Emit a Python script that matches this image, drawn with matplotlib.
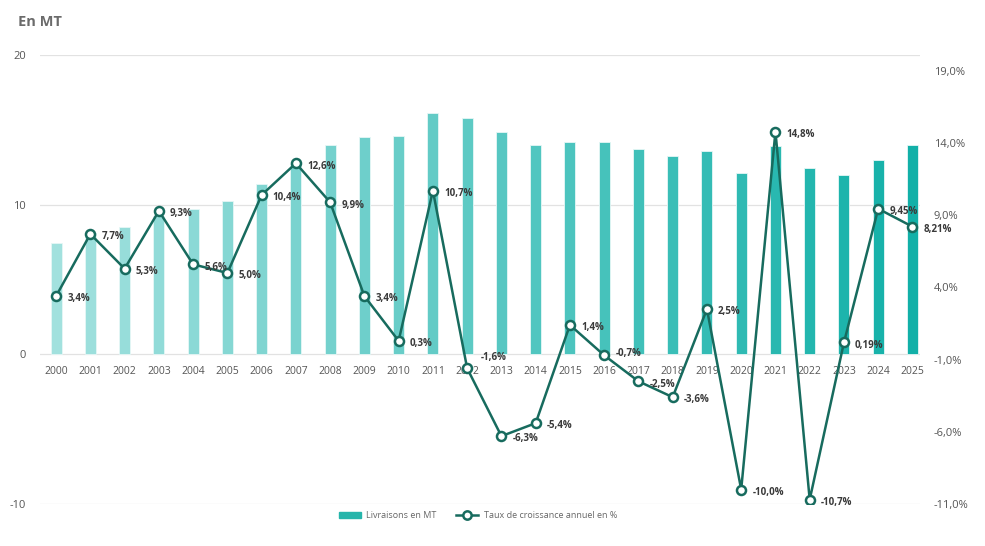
import numpy as np
import matplotlib.pyplot as plt
from matplotlib.colors import LinearSegmentedColormap

plt.rcParams['font.family'] = ['Open Sans', 'DejaVu Sans']
plt.rcParams['axes.unicode_minus'] = False

years = [str(y) for y in range(2000, 2026)]
livraisons = [7.45, 8.1, 8.5, 9.27, 9.73, 10.27, 11.38, 12.7, 14.0, 14.49,
              14.58, 16.11, 15.82, 14.84, 14.0, 14.22, 14.16, 13.73, 13.22, 13.58,
              12.11, 13.93, 12.47, 11.98, 12.96, 13.96]
croissance = [3.4, 7.7, 5.3, 9.3, 5.6, 5.0, 10.4, 12.6, 9.9, 3.4,
              0.3, 10.7, -1.6, -6.3, -5.4, 1.4, -0.7, -2.5, -3.6, 2.5,
              -10.0, 14.8, -10.7, 0.19, 9.45, 8.21]
labels = ["3,4%", "7,7%", "5,3%", "9,3%", "5,6%", "5,0%", "10,4%", "12,6%", "9,9%", "3,4%",
          "0,3%", "10,7%", "-1,6%", "-6,3%", "-5,4%", "1,4%", "-0,7%", "-2,5%", "-3,6%", "2,5%",
          "-10,0%", "14,8%", "-10,7%", "0,19%", "9,45%", "8,21%"]
left_ticks = [-10, 0, 10, 20]
right_ticks = [-11, -6, -1, 4, 9, 14, 19]

line_col = "#176b5e"
cmap = LinearSegmentedColormap.from_list("teal", ["#a2e1de", "#12b0a8"])

fig = plt.figure(figsize=(9.85, 5.46), dpi=100)
ax = fig.add_axes([40 / 985, 1 - 504 / 546, 880 / 985, 449 / 546])
x = np.arange(len(years))
colors = [cmap(i / (len(years) - 1)) for i in range(len(years))]
ax.bar(x, livraisons, width=0.32, color=colors, edgecolor="#e6f7f6", linewidth=0.6, zorder=2)
ax.set_ylim(-10, 20)
ax.set_xlim(-0.47, 25.22)
ax.set_yticks(left_ticks)
ax.set_yticklabels([str(t) for t in left_ticks])
ax.grid(axis="y", color="#e2e2e2", linewidth=0.9, zorder=0)
ax.set_axisbelow(True)
for s in ax.spines.values():
    s.set_visible(False)
ax.tick_params(axis="y", length=0, pad=10, labelsize=8, labelcolor="#555555")
ax.set_xticks([])
# year labels sit just under the zero line
for xi, yr in zip(x, years):
    ax.text(xi, -0.75, yr, ha="center", va="top", fontsize=7.5, color="#555555")

ax2 = ax.twinx()
ax2.set_ylim(-11, 20.1)
ax2.set_yticks(right_ticks)
ax2.set_yticklabels([f"{t},0%" for t in right_ticks])
ax2.tick_params(axis="y", length=0, pad=10, labelsize=8, labelcolor="#555555")
for s in ax2.spines.values():
    s.set_visible(False)
ax2.plot(x, croissance, color=line_col, linewidth=1.8, marker="o", markersize=6.5,
         markerfacecolor="white", markeredgecolor=line_col, markeredgewidth=1.8, zorder=5)

# a few labels are nudged so they don't sit on the year labels
nudge = {"2012": (10, 8), "2016": (8, 1)}
for xi, yr, v, t in zip(x, years, croissance, labels):
    off = nudge.get(yr, (8, -2))
    ax2.annotate(t, (xi, v), xytext=off, textcoords="offset points",
                 ha="left", va="center", fontsize=7, fontweight="bold", color="#3a3a3a", zorder=6)

fig.text(18 / 985, 1 - 22 / 546, "En MT", fontsize=10.5, fontweight="bold", color="#6b6b6b",
         ha="left", va="center")

# legend
bar_h = plt.Rectangle((0, 0), 1, 1, color="#26b5ab")
line_h, = ax2.plot([], [], color=line_col, linewidth=1.8, marker="o", markersize=6,
                   markerfacecolor="white", markeredgecolor=line_col, markeredgewidth=1.8)
fig.legend([bar_h, line_h], ["Livraisons en MT", "Taux de croissance annuel en %"],
           loc="center", bbox_to_anchor=(478 / 985, 1 - 516 / 546), ncol=2, frameon=False,
           fontsize=6.5, labelcolor="#666666", handlelength=2.4, handleheight=0.6,
           columnspacing=2.2, handletextpad=0.6)

fig.savefig("out.png", dpi=100)
